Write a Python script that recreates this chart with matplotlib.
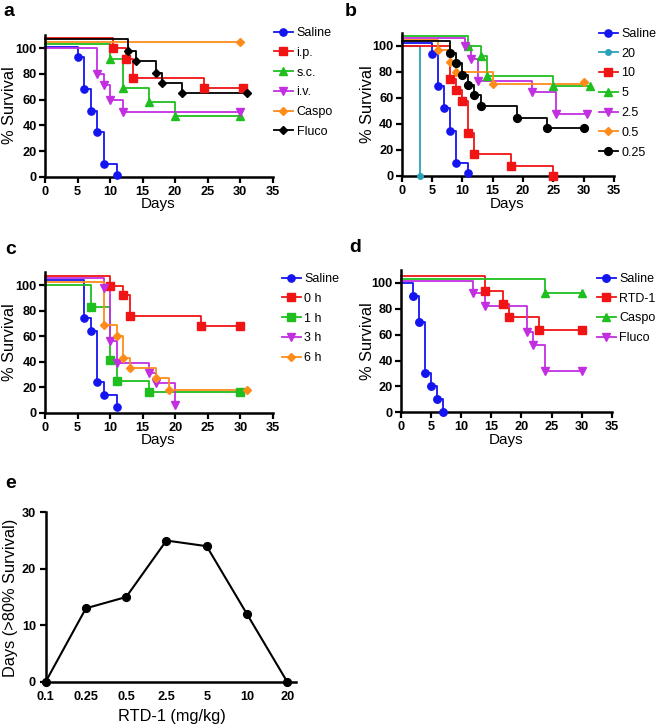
import matplotlib
matplotlib.use("Agg")
import matplotlib.pyplot as plt
from matplotlib.lines import Line2D

plt.rcParams['font.family'] = ['Liberation Sans', 'DejaVu Sans']

# ---------------- data ----------------
# Panel a
a_labels = ["Saline", "i.p.", "s.c.", "i.v.", "Caspo", "Fluco"]
a_start = [101, 108, 103, 100, 105, 107]
a_times = [[5, 6, 7, 8, 9, 11],
           [10.5, 12.5, 13.5, 24.5, 30.5],
           [10, 12, 16, 20, 30],
           [8, 9, 10, 12, 30],
           [30],
           [12.8, 14, 17, 18, 21, 31]]
a_surv = [[93, 68, 51, 35, 10, 1],
          [100, 92, 77, 69, 69],
          [92, 69, 58, 47, 47],
          [80, 71, 60, 50, 50],
          [105],
          [98, 90, 81, 73, 65, 65]]

# Panel b
b_labels = ["Saline", "20", "10", "5", "2.5", "0.5", "0.25"]
b_start = [102, 100, 100, 108, 106, 105, 104]
b_times = [[5, 6, 7, 8, 9, 11],
           [3],
           [8, 9, 10, 11, 12, 18, 25],
           [11, 13, 14, 25, 31],
           [10.5, 11.5, 12.5, 21.5, 25.5, 30.5],
           [6, 8, 9, 15, 30],
           [8, 9, 10, 11, 12, 13, 19, 24, 30]]
b_surv = [[94, 69, 52, 35, 10, 2],
          [0],
          [75, 66, 58, 33, 17, 8, 0],
          [100, 92, 77, 69, 69],
          [100, 90, 73, 65, 48, 48],
          [97, 88, 80, 71, 72],
          [95, 87, 78, 70, 62, 54, 45, 37, 37]]

# Panel c
c_labels = ["Saline", "0 h", "1 h", "3 h", "6 h"]
c_start = [104, 107, 100, 105.5, 102]
c_times = [[6, 7, 8, 9, 11],
           [10, 12, 13, 24, 30],
           [7, 10, 11, 16, 30],
           [9, 10, 11, 16, 17, 20],
           [9, 11, 12, 13, 17, 19, 31]]
c_surv = [[74, 64, 24, 14, 4],
          [99, 92, 76, 68, 68],
          [83, 41, 25, 16, 16],
          [98, 56, 39, 31, 23, 6],
          [69, 60, 43, 35, 27, 18, 18]]

# Panel d
d_labels = ["Saline", "RTD-1", "Caspo", "Fluco"]
d_start = [100, 105, 103, 101.5]
d_times = [[2, 3, 4, 5, 6, 7],
           [14, 17, 18, 23, 30],
           [24, 30],
           [12, 14, 21, 22, 24, 30]]
d_surv = [[90, 70, 30, 20, 10, 0],
          [94, 84, 74, 64, 64],
          [92, 92],
          [92, 82, 62, 52, 32, 32]]

# Panel e
e_doses = ["0.1", "0.25", "0.5", "2.5", "5", "10", "20"]
e_days = [0, 13, 15, 25, 24, 12, 0]

# ---------------- styles ----------------
BLUE = '#1414f0'
RED = '#f01414'
GREEN = '#1fbf1f'
MAG = '#c22fe0'
ORANGE = '#ff8c1a'
BLACK = '#000000'
TEAL = '#2aa3b8'

a_style = [(BLUE, 'o', 5.2), (RED, 's', 5.2), (GREEN, '^', 5.8),
           (MAG, 'v', 5.8), (ORANGE, 'D', 3.6), (BLACK, 'D', 3.6)]
b_style = [(BLUE, 'o', 5.2), (TEAL, 'o', 4.0), (RED, 's', 5.4), (GREEN, '^', 5.4),
           (MAG, 'v', 6.0), (ORANGE, 'D', 4.4), (BLACK, 'o', 5.6)]
c_style = [(BLUE, 'o', 5.2), (RED, 's', 5.6), (GREEN, 's', 5.2),
           (MAG, 'v', 5.4), (ORANGE, 'D', 4.4)]
d_style = [(BLUE, 'o', 5.4), (RED, 's', 5.4), (GREEN, '^', 5.4), (MAG, 'v', 5.6)]

W, H = 658, 728
fig = plt.figure(figsize=(W / 100, H / 100), dpi=100)

TICK_FS = 9.2
LAB_FS = 11.0
YLAB_FS = 11.8
LEG_FS = 9.0


def make_axes(x0, x1, y0, ytop):
    return fig.add_axes([x0 / W, 1 - y0 / H, (x1 - x0) / W, (y0 - ytop) / H])


def style_axes(ax):
    for s in ['top', 'right']:
        ax.spines[s].set_visible(False)
    for s in ['left', 'bottom']:
        ax.spines[s].set_linewidth(1.8)
    ax.tick_params(direction='out', length=4, width=1.6, labelsize=TICK_FS)
    ax.tick_params(axis='x', pad=2.5)
    ax.tick_params(axis='y', pad=2.0)
    for lab in ax.get_xticklabels() + ax.get_yticklabels():
        lab.set_fontweight('bold')


def fig_text(xpx, ypx, s, **kw):
    fig.text(xpx / W, 1 - ypx / H, s, ha='center', va='center', **kw)


def km_panel(ax, labels, starts, times, survs, styles):
    handles = []
    for lab, s0, ts, vs, (col, mk, ms) in zip(labels, starts, times, survs, styles):
        xs = [0]
        ys = [s0]
        prev = s0
        for t, v in zip(ts, vs):
            xs += [t, t]
            ys += [prev, v]
            prev = v
        ax.plot(xs, ys, color=col, lw=1.3, clip_on=False, zorder=2)
        ax.plot(ts, vs, linestyle='none', marker=mk, color=col, ms=ms,
                mec=col, clip_on=False, zorder=3)
        handles.append(Line2D([0], [0], color=col, lw=1.3, marker=mk, ms=ms, mec=col))
    ax.set_xlim(0, 35)
    ax.set_ylim(0, 110)
    ax.set_xticks(range(0, 36, 5))
    ax.set_yticks(range(0, 101, 20))
    style_axes(ax)
    return handles


def add_legend(handles, labels, xpx, ypx):
    fig.legend(handles, labels, loc='upper left',
               bbox_to_anchor=(xpx / W, 1 - ypx / H), frameon=False,
               fontsize=LEG_FS, handlelength=1.5, handletextpad=0.3,
               labelspacing=0.62, borderpad=0, borderaxespad=0)


# Panel a
axa = make_axes(45, 272.7, 176.7, 35.4)
h = km_panel(axa, a_labels, a_start, a_times, a_surv, a_style)
add_legend(h, a_labels, 274, 27)
fig_text(158, 204, 'Days', fontsize=LAB_FS)
fig_text(9.5, 105, '% Survival', fontsize=YLAB_FS, rotation=90)

# Panel b
axb = make_axes(401.7, 614, 176, 33)
h = km_panel(axb, b_labels, b_start, b_times, b_surv, b_style)
add_legend(h, b_labels, 599, 28)
fig_text(507, 204, 'Days', fontsize=LAB_FS)
fig_text(368, 104, '% Survival', fontsize=YLAB_FS, rotation=90)

# Panel c
axc = make_axes(45, 273, 412.5, 272.3)
h = km_panel(axc, c_labels, c_start, c_times, c_surv, c_style)
add_legend(h, c_labels, 282, 273)
fig_text(158, 440, 'Days', fontsize=LAB_FS)
fig_text(9.5, 342, '% Survival', fontsize=YLAB_FS, rotation=90)

# Panel d
axd = make_axes(401, 611.7, 412.3, 270)
h = km_panel(axd, d_labels, d_start, d_times, d_surv, d_style)
add_legend(h, d_labels, 597, 273)
fig_text(506, 440, 'Days', fontsize=LAB_FS)
fig_text(368, 341, '% Survival', fontsize=YLAB_FS, rotation=90)

# Panel e
axe = make_axes(45.7, 296, 681.7, 512.3)
xs = list(range(len(e_doses)))
axe.plot(xs, e_days, color='black', lw=1.5, marker='o', ms=5.6, clip_on=False, zorder=3)
axe.set_xlim(0, 6.22)
axe.set_ylim(0, 30)
axe.set_xticks(xs)
axe.set_xticklabels(e_doses)
axe.set_yticks([0, 10, 20, 30])
style_axes(axe)
axe.tick_params(axis='x', length=0, pad=7)
axe.tick_params(axis='y', pad=3)
fig_text(172, 717, 'RTD-1 (mg/kg)', fontsize=YLAB_FS)
fig_text(11, 598, 'Days (>80% Survival)', fontsize=YLAB_FS, rotation=90)

# panel letters
for letter, xpx, ypx in [('a', 9, 12), ('b', 351, 12), ('c', 11, 249),
                         ('d', 355, 248), ('e', 11, 484)]:
    fig_text(xpx, ypx, letter, fontsize=14, fontweight='bold')

fig.savefig('out.png', dpi=100)
